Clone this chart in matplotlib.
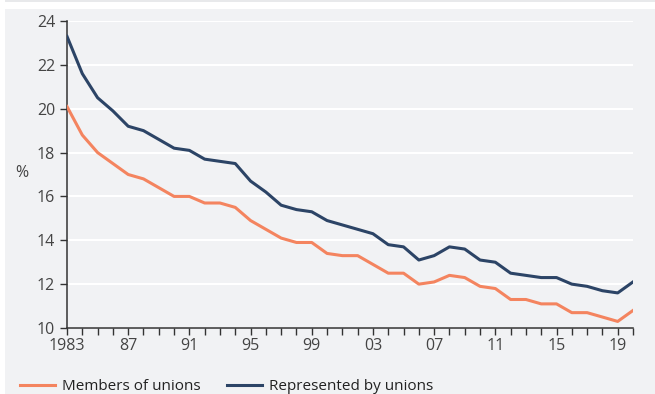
import matplotlib.pyplot as plt
from matplotlib.patches import Rectangle
import numpy as np

years = np.arange(1983, 2021)
members = [20.1, 18.8, 18.0, 17.5, 17.0, 16.8, 16.4, 16.0, 16.0, 15.7,
           15.7, 15.5, 14.9, 14.5, 14.1, 13.9, 13.9, 13.4, 13.3, 13.3,
           12.9, 12.5, 12.5, 12.0, 12.1, 12.4, 12.3, 11.9, 11.8, 11.3,
           11.3, 11.1, 11.1, 10.7, 10.7, 10.5, 10.3, 10.8]
represented = [23.3, 21.6, 20.5, 19.9, 19.2, 19.0, 18.6, 18.2, 18.1, 17.7,
               17.6, 17.5, 16.7, 16.2, 15.6, 15.4, 15.3, 14.9, 14.7, 14.5,
               14.3, 13.8, 13.7, 13.1, 13.3, 13.7, 13.6, 13.1, 13.0, 12.5,
               12.4, 12.3, 12.3, 12.0, 11.9, 11.7, 11.6, 12.1]
xtick_years = [1983, 1987, 1991, 1995, 1999, 2003, 2007, 2011, 2015, 2019]
xtick_labels = ['1983', '87', '91', '95', '99', '03', '07', '11', '15', '19']

bg = '#f1f2f4'
orange = '#f4845f'
navy = '#2c4466'
txt = '#444444'

plt.rcParams['font.family'] = ['Open Sans', 'DejaVu Sans']
plt.rcParams['font.size'] = 11

fig = plt.figure(figsize=(6.55, 3.94), dpi=100)
fig.patch.set_facecolor(bg)
# white strip on top and left edge
fig.patches.append(Rectangle((0, 1 - 9/394), 1, 9/394, transform=fig.transFigure,
                             facecolor='white', edgecolor='none', zorder=0))
fig.patches.append(Rectangle((0, 1 - 2/394), 1, 2/394, transform=fig.transFigure,
                             facecolor='#e8e9eb', edgecolor='none', zorder=0))
fig.patches.append(Rectangle((0, 0), 5/655, 1, transform=fig.transFigure,
                             facecolor='white', edgecolor='none', zorder=0))

ax = fig.add_axes([67/655, 1 - 328/394, 566/655, 307/394])
ax.set_facecolor(bg)

ax.plot(years, members, color=orange, lw=2.2, label='Members of unions', zorder=3)
ax.plot(years, represented, color=navy, lw=2.2, label='Represented by unions', zorder=3)

ax.set_xlim(1983, 2020)
ax.set_ylim(10, 24)
ax.set_yticks(range(10, 25, 2))
ax.set_xticks(xtick_years)
ax.set_xticklabels(xtick_labels)
ax.set_xticks(years, minor=True)
ax.grid(axis='y', color='white', lw=1.5, zorder=1)
ax.set_axisbelow(True)

for s in ['top', 'right']:
    ax.spines[s].set_visible(False)
for s in ['left', 'bottom']:
    ax.spines[s].set_color('#333333')
    ax.spines[s].set_linewidth(1.1)

ax.tick_params(axis='both', which='both', colors='#333333', labelcolor=txt,
               length=5, width=1, labelsize=11.5)
ax.tick_params(axis='x', which='both', pad=2)

fig.text(15/655, 1 - 173/394, '%', color=txt, fontsize=11.5, ha='left', va='center')

fig.legend(loc='center left', bbox_to_anchor=(20/655, 7/394), ncol=2, frameon=False,
           fontsize=11, handlelength=2.3, handletextpad=0.45, columnspacing=1.7,
           borderpad=0, borderaxespad=0, labelcolor='#222222')

fig.savefig('out.png', dpi=100, facecolor=fig.get_facecolor())
